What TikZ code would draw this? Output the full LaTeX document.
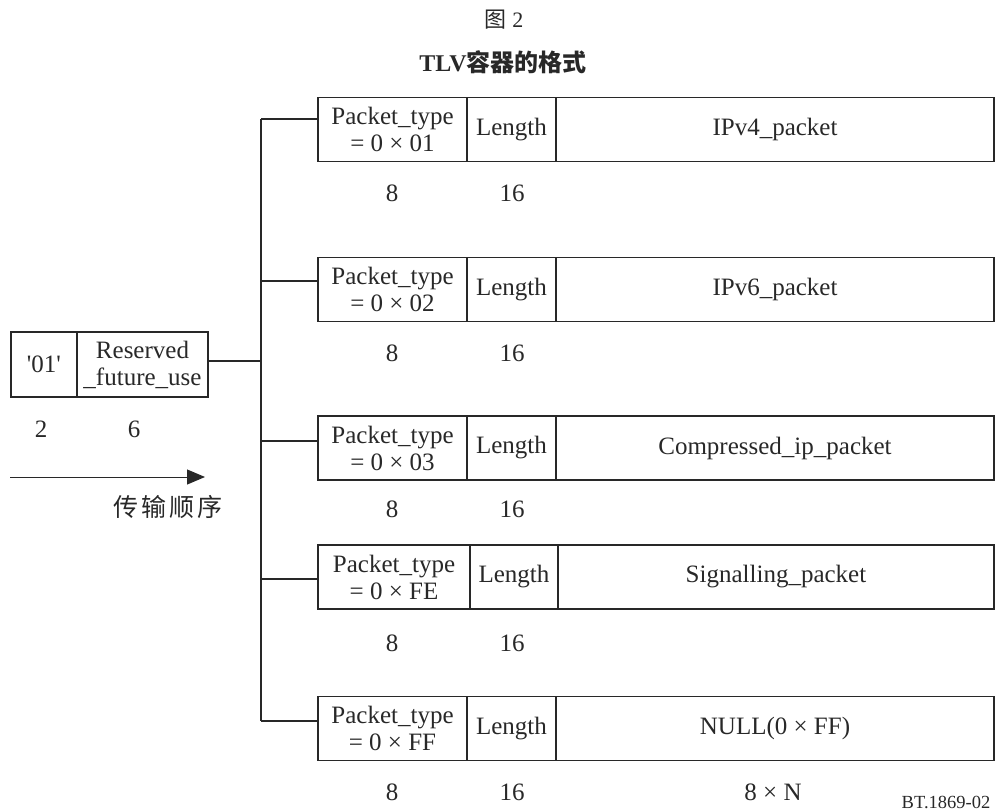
\documentclass[tikz,border=0pt]{standalone}
\usepackage{fontspec}
\setmainfont{Liberation Serif}
\newfontfamily\cjk{Noto Sans CJK SC}
\usetikzlibrary{arrows.meta}
\definecolor{ink}{RGB}{40,40,40}
\begin{document}
\begin{tikzpicture}[x=1pt,y=-1pt,
  every node/.style={text=ink,font=\fontsize{25}{27}\selectfont},
  cell/.style={draw=ink,line width=1.3pt,inner sep=0pt,minimum height=64pt,align=center},
  wire/.style={draw=ink,line width=1.3pt},
  lbl/.style={inner sep=0pt}]
\useasboundingbox (0,0) rectangle (996,811);

\node[lbl,font=\fontsize{22}{24}\selectfont] (fig) at (504,20) {{\cjk 图}~2};
\node[lbl,font=\fontsize{24}{26}\selectfont\bfseries] (title) at (503,62) {TLV{\cjk 容器的格式}};

% left box
\node[cell,minimum width=66pt,minimum height=65pt] (q1) at (44,364.5) {\textquotesingle 01\textquotesingle};
\node[cell,minimum width=131pt,minimum height=65pt] (q2) at (142.5,364.5) {Reserved\\\_future\_use};
\node[lbl] (n2) at (41,429) {2};
\node[lbl] (n6) at (134,429) {6};
\coordinate (a0) at (10,477);
\coordinate (a1) at (205,477);
\draw[draw=ink,line width=1pt,-{Triangle[length=18pt,width=15pt]}] (a0) -- (a1);
\node[lbl,font=\fontsize{25}{27}\selectfont\cjk] (order) at (168,507) {传\hspace{3pt}输\hspace{3pt}顺\hspace{3pt}序};

% rows
\foreach \i/\cy/\pt/\pay/\ly in {1/129.5/01/IPv4\_packet/193, 2/289.5/02/IPv6\_packet/353, 3/448/03/Compressed\_ip\_packet/509, 5/728.5/FF/NULL(0 × FF)/792}{
  \node[cell,minimum width=149pt] (t\i) at (392.5,\cy) {Packet\_type\\= 0 × \pt};
  \node[cell,minimum width=89pt] (l\i) at (511.5,\cy) {Length};
  \node[cell,minimum width=438pt] (p\i) at (775,\cy) {\pay};
  \node[lbl] (e\i) at (392,\ly) {8};
  \node[lbl] (s\i) at (512,\ly) {16};
}
\node[cell,minimum width=152pt] (t4) at (394,577) {Packet\_type\\= 0 × FE};
\node[cell,minimum width=88pt] (l4) at (514,577) {Length};
\node[cell,minimum width=436pt] (p4) at (776,577) {Signalling\_packet};
\node[lbl] (e4) at (392,643) {8};
\node[lbl] (s4) at (512,643) {16};

\node[lbl] (nN) at (773,792) {8 × N};
\node[lbl,font=\fontsize{18.5}{20}\selectfont] (ref) at (946,802) {BT.1869-02};

% connectors
\coordinate (j1) at (261,119);
\coordinate (j2) at (261,281);
\coordinate (j3) at (261,441);
\coordinate (j4) at (261,579);
\coordinate (j5) at (261,721);
\coordinate (j0) at (261,361);
\coordinate (q0) at (208,361);
\draw[wire] (j1) -- (j5);
\draw[wire] (q0) -- (j0);
\foreach \i in {1,...,5}{
  \draw[wire] (j\i) -- (j\i -| t\i.west);
}
\end{tikzpicture}
\end{document}
